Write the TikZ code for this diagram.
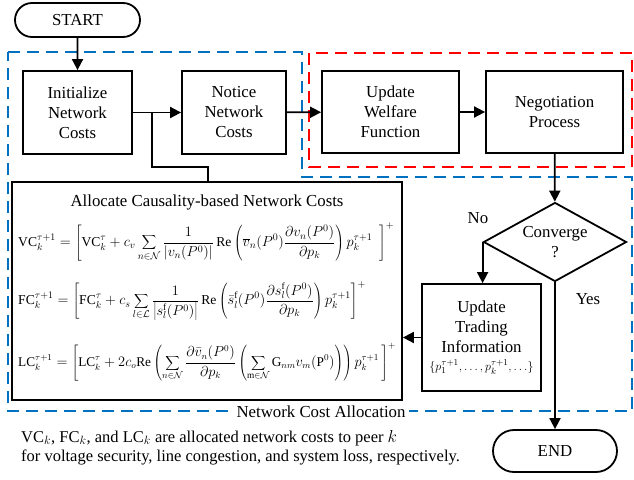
\documentclass[tikz,border=0pt]{standalone}
\usepackage{fontspec}
\setmainfont{Liberation Serif}
\usetikzlibrary{arrows.meta,shapes.geometric,shapes.misc}
\definecolor{nblue}{RGB}{0,112,192}
\definecolor{nred}{RGB}{255,0,0}
\begin{document}
\begin{tikzpicture}[x=1pt,y=-1pt,
  font=\rmfamily\fontsize{16.8}{20}\selectfont,
  box/.style={draw, line width=1.8pt, align=center, inner sep=0pt},
  term/.style={box, rounded rectangle},
  flow/.style={line width=1.8pt, -{Triangle[length=11pt,width=11pt]}},
  plain/.style={line width=1.8pt},
  zone/.style={line width=2.2pt, dash pattern=on 12pt off 7pt},
  eq/.style={anchor=west, inner sep=0pt, font=\fontsize{13.6}{16}\selectfont},
  lbl/.style={inner sep=0pt}]
\useasboundingbox (0,0) rectangle (634,479);

% zones
\draw[zone, nblue] (8,52) -- (302,52) -- (302,177) -- (632,177) -- (632,411) -- (8,411) -- cycle;
\node[lbl, fill=white, inner xsep=4pt, inner ysep=2pt] (zonelabel) at (321,412) {Network Cost Allocation};
\draw[zone, nred] (309,53) rectangle (632,167);

% nodes
\node[term, minimum width=125pt, minimum height=34pt] (start) at (77.5,20) {START};
\node[box, minimum width=109pt, minimum height=83pt] (init) at (77.5,112.5) {Initialize\\Network\\Costs};
\node[box, minimum width=104pt, minimum height=83pt] (notice) at (234,112.5) {Notice\\Network\\Costs};
\node[box, minimum width=137pt, minimum height=82pt] (welfare) at (390.5,112) {Update\\Welfare\\Function};
\node[box, minimum width=137pt, minimum height=82pt] (nego) at (554.5,112) {Negotiation\\Process};
\node[draw, line width=1.8pt, diamond, aspect=1.81, minimum width=143pt, minimum height=79pt, inner sep=0pt, align=center] (conv) at (555,242) {Converge\\?};
\node[box, minimum width=119pt, minimum height=107pt] (trade) at (481.5,337.5) {Update\\Trading\\Information\\[-2pt]{\fontsize{13}{15}\selectfont$\{p_1^{\tau+1},\ldots,p_k^{\tau+1},\ldots\}$}};
\node[box, minimum width=390pt, minimum height=218pt] (alloc) at (207,291) {};
\node[term, minimum width=124pt, minimum height=42pt] (end) at (555,451) {END};

% allocate contents
\node[lbl] (alloctitle) at (207,202) {Allocate Causality-based Network Costs};
\node[eq] (eqvc) at (18,242) {$\displaystyle \mathrm{VC}_k^{\tau+1}=\left[\mathrm{VC}_k^{\tau}+c_v\sum_{n\in\mathcal{N}}\frac{1}{|v_n(P^0)|}\,\mathrm{Re}\left(\overline{v}_n(P^0)\frac{\partial v_n(P^0)}{\partial p_k}\right)p_k^{\tau+1}\ \ \right]^{+}$};
\node[eq] (eqfc) at (18,301) {$\displaystyle \mathrm{FC}_k^{\tau+1}=\left[\mathrm{FC}_k^{\tau}+c_s\sum_{l\in\mathcal{L}}\frac{1}{\left|s_l^{\mathrm{f}}(P^0)\right|}\,\mathrm{Re}\left(\bar{s}_l^{\mathrm{f}}(P^0)\frac{\partial s_l^{\mathrm{f}}(P^0)}{\partial p_k}\right)p_k^{\tau+1}\right]^{+}$};
\node[eq, font=\fontsize{13.3}{16}\selectfont] (eqlc) at (18,362) {$\displaystyle \mathrm{LC}_k^{\tau+1}=\left[\mathrm{LC}_k^{\tau}+2c_o\mathrm{Re}\left(\sum_{n\in\mathcal{N}}\frac{\partial\bar{v}_n(P^0)}{\partial p_k}\left(\sum_{\mathrm{m}\in\mathcal{N}}\mathrm{G}_{nm}v_m(\mathrm{P}^0)\right)\right)p_k^{\tau+1}\,\right]^{+}$};

% footnote
\node[lbl, anchor=north west, align=left, font=\fontsize{16.5}{19}\selectfont] (note) at (21,430) {VC$_k$, FC$_k$, and LC$_k$ are allocated network costs to peer $k$\\for voltage security, line congestion, and system loss, respectively.};

% labels
\node[lbl] (nolbl) at (478,218) {No};
\node[lbl] (yeslbl) at (588,299) {Yes};

% connectors
\coordinate (branch) at (152,112.5);
\coordinate (bend) at (208,167);
\draw[flow] (start) -- (init);
\draw[flow] (init) -- (notice);
\draw[plain] (branch) |- (bend) -- (alloc.north -| bend);
\draw[flow] (notice) -- (welfare);
\draw[flow] (welfare) -- (nego);
\draw[flow] (nego) -- (conv);
\draw[flow] (conv.west) -- (conv.west |- trade.north);
\draw[flow] (conv) -- (end);
\draw[flow] (trade.west) -- (trade.west -| alloc.east);
\end{tikzpicture}
\end{document}
